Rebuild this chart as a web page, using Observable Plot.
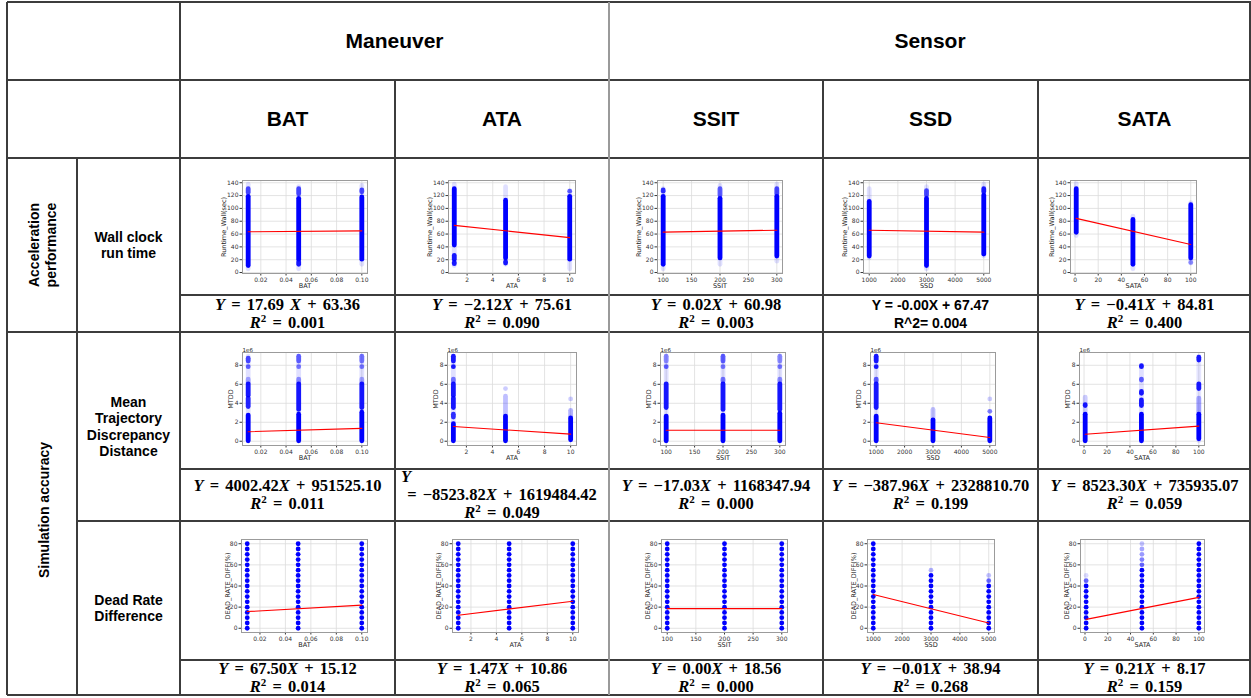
<!DOCTYPE html>
<html><head><meta charset="utf-8">
<script src="https://cdn.jsdelivr.net/npm/d3@7"></script>
<script src="https://cdn.jsdelivr.net/npm/@observablehq/plot@0.6"></script>
<style>
body{margin:0;background:#fff;}
#root{position:relative;width:1251px;height:698px;font-family:"Liberation Sans",Arial,sans-serif;color:#000;overflow:hidden;}
.ln{position:absolute;background:#3c3c3c;}
.lbl{position:absolute;display:flex;align-items:center;justify-content:center;text-align:center;font-weight:bold;}
.rot{position:absolute;font-weight:bold;font-size:14px;line-height:17px;text-align:center;white-space:nowrap;transform:translate(-50%,-50%) rotate(-90deg);}
.eq{position:absolute;display:flex;flex-direction:column;justify-content:center;font-family:"Liberation Serif",serif;font-weight:bold;font-size:16.5px;line-height:18px;white-space:nowrap;word-spacing:2px;}
.eq div{text-align:center;}
.eq i{font-style:italic;}
.eq sup{font-size:11px;line-height:0;}
.eq.plain{font-family:"Liberation Sans",Arial,sans-serif;font-size:14px;line-height:18px;word-spacing:0;}
.plot{position:absolute;}
</style></head><body><div id="root"></div>
<script>
// ---------------- data ----------------
const groups = ["Maneuver", "Sensor"];
const factors = ["BAT", "ATA", "SSIT", "SSD", "SATA"];
const metrics = ["Wall clock\nrun time", "Mean\nTrajectory\nDiscrepancy\nDistance", "Dead Rate\nDifference"];
const categories = ["Acceleration\nperformance", "Simulation accuracy"];
const yLabels = ["Runtime_Wall(sec)", "MTDD", "DEAD_RATE_DIFF(%)"];

const xLevelsBAT = [0.01, 0.05, 0.10];
const xLevelsATA = [1, 5, 10];
const xLevelsSSIT = [100, 200, 300];
const xLevelsSSD = [1000, 3000, 5000];
const xLevelsSATA = [1, 50, 100];

const xTicksBAT = [0.02, 0.04, 0.06, 0.08, 0.10];
const xTicksATA = [2, 4, 6, 8, 10];
const xTicksSSIT = [100, 150, 200, 250, 300];
const xTicksSSD = [1000, 2000, 3000, 4000, 5000];
const xTicksSATA = [0, 20, 40, 60, 80, 100];

const yTicksRuntime = [0, 20, 40, 60, 80, 100, 120, 140];
const yTicksMTDD = [0, 2, 4, 6, 8];           // x 1e6
const yTicksDead = [0, 20, 40, 60, 80];
const deadLevels = [0, 5, 10, 15, 20, 25, 30, 35, 40, 45, 50, 55, 60, 65, 70, 75, 80];

// runtime point bands: [x, yFrom, yTo, opacity]
const runBAT = [[0.01,5,137,0.12],[0.01,10,118,1],[0.01,124,130,0.7],
  [0.05,5,133,0.12],[0.05,12,16,0.9],[0.05,20,115,1],[0.05,122,130,0.7],
  [0.10,12,135,0.12],[0.10,20,117,1],[0.10,125,128,0.7]];
const runATA = [[1,10,137,0.12],[1,13,15,0.9],[1,20,26,0.9],[1,42,130,1],
  [5,12,133,0.12],[5,14,16,0.9],[5,22,112,1],
  [10,5,127,0.12],[10,20,118,1],[10,126,126,0.6]];
const runSSIT = [[100,5,130,0.12],[100,12,118,1],[100,126,128,0.8],
  [200,12,135,0.12],[200,22,115,1],[200,120,130,0.6],
  [300,17,137,0.12],[300,25,118,1],[300,122,130,0.7]];
const runSSD = [[1000,22,130,0.12],[1000,25,110,1],
  [3000,5,133,0.12],[3000,10,115,1],[3000,120,127,0.7],
  [5000,25,137,0.12],[5000,28,120,1],[5000,125,130,0.9]];
const runSATA = [[1,57,138,0.12],[1,62,130,1],
  [50,5,87,0.12],[50,12,82,1],
  [100,14,108,0.12],[100,22,105,1],[100,15,15,0.4]];

// MTDD point bands (x 1e6): [x, yFrom, yTo, opacity]
const mtddBAT = [[0.01,0,8.9,0.12],[0.01,0,2.7,1],[0.01,3.6,4.5,0.85],[0.01,4.8,6.0,0.9],[0.01,6.1,6.5,0.3],[0.01,7.8,7.8,0.6],[0.01,8.4,8.7,0.7],
  [0.05,0,8.9,0.12],[0.05,0,2.8,1],[0.05,3.3,6.0,0.9],[0.05,6.2,6.5,0.4],[0.05,7.8,7.8,0.5],[0.05,8.4,8.9,0.6],
  [0.10,0,8.9,0.12],[0.10,0,3.0,1],[0.10,3.5,6.0,0.9],[0.10,6.1,6.5,0.3],[0.10,7.8,7.8,0.5],[0.10,8.4,8.9,0.5]];
const mtddATA = [[1,0,8.9,0.12],[1,0,1.8,1],[1,2.5,2.8,0.8],[1,3.5,4.5,0.9],[1,4.8,6.0,0.9],[1,6.3,6.5,0.5],[1,7.8,7.8,0.9],[1,8.4,8.9,0.9],
  [5,0,2.6,1],[5,2.6,4.7,0.25],[5,5.5,5.5,0.2],
  [10,0.1,2.4,1],[10,2.4,3.2,0.3],[10,4.4,4.4,0.2]];
const mtddSSIT = [[100,0,8.9,0.12],[100,0,2.6,1],[100,3.5,6.0,0.9],[100,7.8,7.8,0.6],[100,8.4,8.9,0.4],
  [200,0,8.9,0.12],[200,0,2.7,1],[200,3.3,6.0,0.9],[200,6.3,6.5,0.5],[200,7.8,7.8,0.5],[200,8.4,8.9,0.6],
  [300,0,8.9,0.12],[300,0,2.9,1],[300,3.3,6.0,0.9],[300,6.3,6.5,0.4],[300,7.8,7.8,0.5],[300,8.4,8.9,0.4]];
const mtddSSD = [[1000,0,8.9,0.12],[1000,0,2.6,1],[1000,3.5,6.0,0.9],[1000,6.3,6.5,0.6],[1000,7.8,7.8,0.9],[1000,8.4,8.9,0.9],
  [3000,0,2.2,1],[3000,2.2,3.3,0.25],
  [5000,0,2.4,1],[5000,3.1,3.1,0.5],[5000,4.4,4.4,0.2]];
const mtddSATA = [[1,0,2.8,1],[1,3.7,3.8,0.9],[1,2.8,4.6,0.2],
  [50,0,7.9,0.12],[50,0,2.8,1],[50,3.7,4.3,0.9],[50,5.0,5.2,0.9],[50,6.4,6.5,0.6],[50,7.8,7.9,0.9],
  [100,0,8.9,0.1],[100,0.2,2.8,1],[100,2.8,4.5,0.3],[100,5.5,6.0,0.9],[100,8.5,8.8,0.9]];

// dead rate dots: [x, highest solid level, extra faint dots [y, opacity]]
const deadBAT = [[0.01,80,[]],[0.05,80,[]],[0.10,80,[]]];
const deadATA = [[1,80,[]],[5,80,[]],[10,80,[]]];
const deadSSIT = [[100,80,[]],[200,80,[]],[300,80,[]]];
const deadSSD = [[1000,80,[]],[3000,50,[[55,0.3]]],[5000,40,[[45,0.6],[50,0.25]]]];
const deadSATA = [[1,40,[[45,0.6],[50,0.15]]],[50,55,[[60,0.6],[65,0.5],[70,0.4],[75,0.35],[80,0.25]]],[100,80,[]]];

// regression lines: endpoints [x, y]
const lineRun = [[[0.01,63.5],[0.10,65]], [[1,73.5],[10,54.4]], [[100,63],[300,66]], [[1000,66],[5000,63]], [[1,84.4],[100,43.8]]];
const lineMTDD = [[[0.01,1.0],[0.10,1.35]], [[1,1.55],[10,0.75]], [[100,1.15],[300,1.15]], [[1000,1.94],[5000,0.39]], [[1,0.74],[100,1.59]]];
const lineDead = [[[0.01,15.8],[0.10,21.9]], [[1,12.3],[10,25.6]], [[100,18.6],[300,18.6]], [[1000,32],[5000,5]], [[1,8.4],[100,29.2]]];

// equations
const eqRun = [["Y = 17.69 X + 63.36","R^2 = 0.001"], ["Y = −2.12X + 75.61","R^2 = 0.090"], ["Y = 0.02X + 60.98","R^2 = 0.003"], ["Y = -0.00X + 67.47","R^2= 0.004"], ["Y = −0.41X + 84.81","R^2 = 0.400"]];
const eqMTDD = [["Y = 4002.42X + 951525.10","R^2 = 0.011"], ["Y","= −8523.82X + 1619484.42","R^2 = 0.049"], ["Y = −17.03X + 1168347.94","R^2 = 0.000"], ["Y = −387.96X + 2328810.70","R^2 = 0.199"], ["Y = 8523.30X + 735935.07","R^2 = 0.059"]];
const eqDead = [["Y = 67.50X + 15.12","R^2 = 0.014"], ["Y = 1.47X + 10.86","R^2 = 0.065"], ["Y = 0.00X + 18.56","R^2 = 0.000"], ["Y = −0.01X + 38.94","R^2 = 0.268"], ["Y = 0.21X + 8.17","R^2 = 0.159"]];

// ---------------- layout ----------------
const root = document.getElementById("root");
const colX = [180, 395, 609, 823, 1038, 1251];
const plotRowY = [[158,295],[332,469],[521,660]];
const eqRowY = [[295,332],[469,521],[660,695]];
const frameL = [[242,448,657,863,1070],[242,447,660,870,1079],[241,452,661,867,1080]];
const frameR = [[367,575,782,989,1196],[367,576,785,995,1204],[367,578,787,994,1204]];
const frameY = [[180,273],[352,445],[539,632]];

function el(cls, css, html) {
  const d = document.createElement("div");
  d.className = cls;
  Object.assign(d.style, css);
  if (html != null) d.innerHTML = html;
  root.appendChild(d);
  return d;
}
function hline(y, x1, x2, c) { el("ln", {left:x1+"px", top:(y-0.75)+"px", width:(x2-x1)+"px", height:"1.5px", background:c||"#3c3c3c"}); }
function vline(x, y1, y2, c, w) { w = w||1.5; el("ln", {left:(x-w/2)+"px", top:y1+"px", width:w+"px", height:(y2-y1)+"px", background:c||"#3c3c3c"}); }

// grid lines of the table
hline(2, 7, 1251); hline(80, 7, 1251); hline(158, 7, 1251);
hline(295, 180, 1251); hline(332, 7, 1251); hline(469, 180, 1251);
hline(521, 77, 1251); hline(660, 180, 1251); hline(695, 7, 1251);
vline(7, 2, 695); vline(77, 158, 695); vline(180, 2, 695);
vline(395, 80, 695); vline(609, 2, 695, "#9a9a9a", 2); vline(823, 80, 695);
vline(1038, 80, 695); vline(1250, 2, 695);

// headers
el("lbl", {left:"180px", top:"2px", width:"429px", height:"78px", fontSize:"21px"}, groups[0]);
el("lbl", {left:"609px", top:"2px", width:"642px", height:"78px", fontSize:"21px"}, groups[1]);
factors.forEach((f, i) => el("lbl", {left:colX[i]+"px", top:"80px", width:(colX[i+1]-colX[i])+"px", height:"78px", fontSize:"21px"}, f));

// row labels
const rowSpan = [[158,332],[332,521],[521,695]];
metrics.forEach((m, i) => el("lbl", {left:"77px", top:rowSpan[i][0]+"px", width:"103px", height:(rowSpan[i][1]-rowSpan[i][0])+"px", fontSize:"14px", lineHeight:"16.5px", whiteSpace:"pre-line"}, m));
el("rot", {left:"43px", top:"245px"}, categories[0].replace("\n", "<br>"));
el("rot", {left:"44px", top:"510px"}, categories[1]);

// equations
function fmtEq(s) {
  return s.replace(/[YXR]/g, m => `<i>${m}</i>`).replace("^2", "<sup>2</sup>");
}
[eqRun, eqMTDD, eqDead].forEach((row, r) => {
  row.forEach((lines, c) => {
    const plain = (r === 0 && c === 3);
    const box = el("eq" + (plain ? " plain" : ""), {left:(colX[c]+2)+"px", top:eqRowY[r][0]+"px", width:(colX[c+1]-colX[c]-4)+"px", height:(eqRowY[r][1]-eqRowY[r][0])+"px"});
    lines.forEach((ln, k) => {
      const d = document.createElement("div");
      d.innerHTML = plain ? ln : fmtEq(ln);
      if (lines.length === 3 && k === 0) { d.style.textAlign = "left"; d.style.paddingLeft = "4px"; }
      box.appendChild(d);
    });
  });
});

// ---------------- plots ----------------
const xLevels = [xLevelsBAT, xLevelsATA, xLevelsSSIT, xLevelsSSD, xLevelsSATA];
const xTicks = [xTicksBAT, xTicksATA, xTicksSSIT, xTicksSSD, xTicksSATA];
const xFmt = [d3.format(".2f"), d => String(d), d => String(d), d => String(d), d => String(d)];
const runData = [runBAT, runATA, runSSIT, runSSD, runSATA];
const mtddData = [mtddBAT, mtddATA, mtddSSIT, mtddSSD, mtddSATA];
const deadData = [deadBAT, deadATA, deadSSIT, deadSSD, deadSATA];
const yTicksAll = [yTicksRuntime, yTicksMTDD, yTicksDead];
const yDomains = [[-1.5, 143.5], [-0.45, 9.35], [-4, 84]];
const yLabelDx = [-19, -12, -14];

function xDomainOf(lv) {
  const a = lv[0], b = lv[lv.length - 1], m = (b - a) * 0.05;
  return [a - m, b + m];
}

for (let r = 0; r < 3; r++) {
  for (let c = 0; c < 5; c++) {
    const cl = colX[c], cr = colX[c+1], ct = plotRowY[r][0], cb = plotRowY[r][1];
    const marks = [
      Plot.ruleX(xTicks[c], {stroke:"#dcdcdc", strokeWidth:0.8}),
      Plot.ruleY(yTicksAll[r], {stroke:"#dcdcdc", strokeWidth:0.8}),
      Plot.frame({stroke:"#9b9b9b", strokeWidth:1})
    ];
    if (r < 2) {
      const segs = (r === 0 ? runData : mtddData)[c];
      marks.push(Plot.ruleX(segs, {x: d => d[0], y1: d => d[1], y2: d => d[2], stroke:"#0000ff", strokeOpacity: d => d[3], strokeWidth:4.8, strokeLinecap:"round"}));
    } else {
      const dots = [];
      deadData[c].forEach(([x, top, extra]) => {
        deadLevels.filter(v => v <= top).forEach(v => dots.push([x, v, 1]));
        extra.forEach(([v, o]) => dots.push([x, v, o]));
      });
      marks.push(Plot.dot(dots, {x: d => d[0], y: d => d[1], r:2.4, fill:"#0000ff", fillOpacity: d => d[2], stroke:"none"}));
    }
    const ld = [lineRun, lineMTDD, lineDead][r][c];
    marks.push(Plot.line(ld, {x: d => d[0], y: d => d[1], stroke:"#ff0000", strokeWidth:1.1}));
    marks.push(Plot.text([yLabels[r]], {text: d => d, frameAnchor:"left", textAnchor:"middle", lineAnchor:"middle", rotate:-90, dx:yLabelDx[r], fontSize:6.5, fill:"#222"}));
    marks.push(Plot.text([factors[c]], {text: d => d, frameAnchor:"bottom", textAnchor:"middle", lineAnchor:"middle", dy:12.5, fontSize:6.5, fill:"#222"}));
    if (r === 1) marks.push(Plot.text(["1e6"], {text: d => d, frameAnchor:"top-left", textAnchor:"start", lineAnchor:"bottom", dy:-1, fontSize:5.5, fill:"#222"}));

    const svg = Plot.plot({
      width: cr - cl, height: cb - ct,
      marginLeft: frameL[r][c] - cl, marginRight: cr - frameR[r][c],
      marginTop: frameY[r][0] - ct, marginBottom: cb - frameY[r][1],
      x: {domain: xDomainOf(xLevels[c]), ticks: xTicks[c], tickFormat: xFmt[c], tickSize: 2.5, tickPadding: 1.5, label: null},
      y: {domain: yDomains[r], ticks: yTicksAll[r], tickFormat: d => String(d), tickSize: 2.5, tickPadding: 1.5, label: null},
      style: {fontSize:"6px", fontFamily:"'DejaVu Sans', sans-serif", color:"#333", background:"transparent", overflow:"visible"},
      marks
    });
    const holder = el("plot", {left:cl+"px", top:ct+"px"});
    holder.appendChild(svg);
  }
}
</script></body></html>
